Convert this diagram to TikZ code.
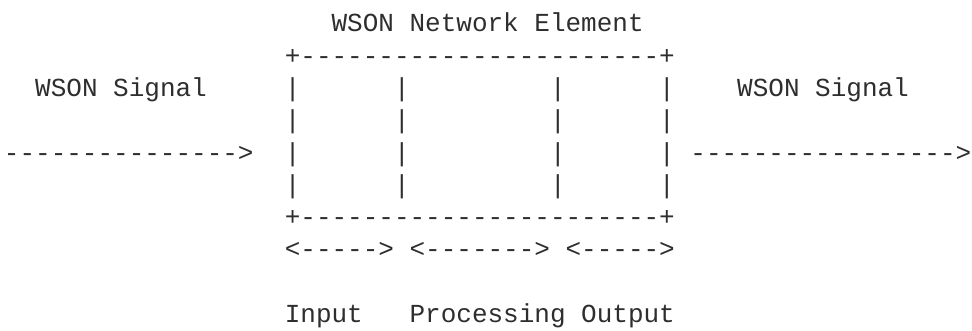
\documentclass[tikz,border=0pt]{standalone}
\usepackage{fontspec}
\setmonofont{Liberation Mono}
\tikzset{
  ch/.style={anchor=base west, inner sep=0pt, outer sep=0pt,
    font=\ttfamily\fontsize{26}{26}\selectfont, text=black!82}
}
\begin{document}
\begin{tikzpicture}
\useasboundingbox (0,0) rectangle (972pt,331pt);
\begin{scope}[shift={(4pt,299.1pt)}, x=15.6pt, y=-32.3pt]
  % title
  \node[ch] (title) at (21,0) {WSON Network Element};
  % box outline
  \node[ch] (boxtop) at (18,1) {+-----------------------+};
  \foreach \r in {2,...,5}
    \foreach \c in {18,25,35,42}
      \node[ch] (bar-\r-\c) at (\c,\r) {|};
  \node[ch] (boxbot) at (18,6) {+-----------------------+};
  % signals
  \node[ch] (sigin) at (2,2) {WSON Signal};
  \node[ch] (sigout) at (47,2) {WSON Signal};
  \node[ch] (arrin) at (0,4) {--------------->};
  \node[ch] (arrout) at (44,4) {----------------->};
  % stage extents
  \node[ch] (spanin) at (18,7) {<----->};
  \node[ch] (spanproc) at (26,7) {<------->};
  \node[ch] (spanout) at (36,7) {<----->};
  % stage labels
  \node[ch] (lblin) at (18,9) {Input};
  \node[ch] (lblproc) at (26,9) {Processing};
  \node[ch] (lblout) at (37,9) {Output};
\end{scope}
\end{tikzpicture}
\end{document}
